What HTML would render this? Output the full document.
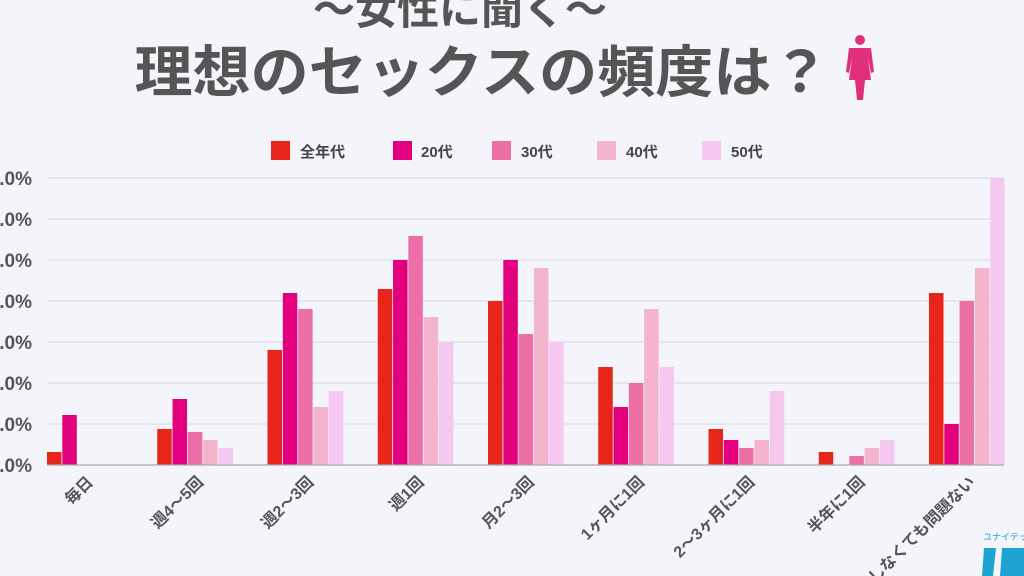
<!DOCTYPE html>
<html><head><meta charset="utf-8"><style>
html,body{margin:0;padding:0;background:#f4f5fa;overflow:hidden}
svg{display:block;font-family:"Liberation Sans","Noto Sans CJK JP",sans-serif}
</style></head><body>
<svg width="1024" height="576" viewBox="0 0 1024 576" xmlns="http://www.w3.org/2000/svg">
<rect width="1024" height="576" fill="#f4f5fa"/>
<text x="460" y="24" text-anchor="middle" font-size="42" font-weight="bold" fill="#555" textLength="294" lengthAdjust="spacingAndGlyphs">〜女性に聞く〜</text>
<text x="482" y="92" text-anchor="middle" font-size="56" font-weight="bold" fill="#555" textLength="695" lengthAdjust="spacingAndGlyphs">理想のセックスの頻度は？</text>
<g fill="#e0307a">
<circle cx="860" cy="40" r="5"/>
<path d="M849 48 H871 L874 72 L871 73 L868 58 L871 80 H865 L863 100 H857 L855 80 H849 L852 58 L849 73 L846 72 Z"/>
</g>
<g font-size="15" font-weight="bold" fill="#444">
<rect x="271" y="141" width="19" height="19" fill="#e8251b"/><text x="300" y="157">全年代</text>
<rect x="393" y="141" width="19" height="19" fill="#e3007f"/><text x="421" y="157">20代</text>
<rect x="492" y="141" width="19" height="19" fill="#ec6fa5"/><text x="521" y="157">30代</text>
<rect x="597" y="141" width="19" height="19" fill="#f4b4cd"/><text x="626" y="157">40代</text>
<rect x="702" y="141" width="19" height="19" fill="#f6c8f0"/><text x="731" y="157">50代</text>
</g>
<g stroke="#dcdde3" stroke-width="1.2">
<line x1="47" y1="178" x2="1004" y2="178"/><line x1="47" y1="219" x2="1004" y2="219"/>
<line x1="47" y1="260" x2="1004" y2="260"/><line x1="47" y1="301" x2="1004" y2="301"/>
<line x1="47" y1="342" x2="1004" y2="342"/><line x1="47" y1="383" x2="1004" y2="383"/>
<line x1="47" y1="424" x2="1004" y2="424"/>
</g>
<g font-size="19" font-weight="bold" fill="#555" text-anchor="end">
<text x="32" y="185">35.0%</text><text x="32" y="226">30.0%</text><text x="32" y="267">25.0%</text>
<text x="32" y="308">20.0%</text><text x="32" y="349">15.0%</text><text x="32" y="390">10.0%</text>
<text x="32" y="431">05.0%</text><text x="32" y="472">00.0%</text>
</g>
<g id="bars"></g>
<line x1="47" y1="465" x2="1004" y2="465" stroke="#aaa" stroke-width="1.2"/>
<g id="labels" font-size="16" font-weight="bold" fill="#555" text-anchor="end"></g>
<text x="983" y="540" font-size="9" fill="#1fa3d0">ユナイテッ</text>
<path d="M984 548 H996 L993 576 H982 Z M1002 548 H1024 V576 H1000 Z" fill="#1fa3d0"/>
<script>
var tops=[[452,415,465,465,465],[429,399,432,440,448],[350,293,309,407,391],[289,260,236,317,342],[301,260,334,268,342],[367,407,383,309,367],[429,440,448,440,391],[452,465,456,448,440],[293,424,301,268,178]];
var cols=["#e8251b","#e3007f","#ec6fa5","#f4b4cd","#f6c8f0"];
var labs=["毎日","週4〜5回","週2〜3回","週1回","月2〜3回","1ヶ月に1回","2〜3ヶ月に1回","半年に1回","しなくても問題ない"];
var ns="http://www.w3.org/2000/svg",b=document.getElementById("bars"),l=document.getElementById("labels");
for(var i=0;i<9;i++){var gx=47+110.25*i;
for(var j=0;j<5;j++){var t=tops[i][j];if(t>=465)continue;var r=document.createElementNS(ns,"rect");
r.setAttribute("x",gx+j*15.3);r.setAttribute("y",t);r.setAttribute("width",14.5);r.setAttribute("height",465-t);r.setAttribute("fill",cols[j]);b.appendChild(r);}
var x=gx+47,y=483;var tx=document.createElementNS(ns,"text");tx.setAttribute("x",x);tx.setAttribute("y",y);
tx.setAttribute("transform","rotate(-45 "+x+" "+y+")");tx.textContent=labs[i];l.appendChild(tx);}
</script>
</svg>
</body></html>
